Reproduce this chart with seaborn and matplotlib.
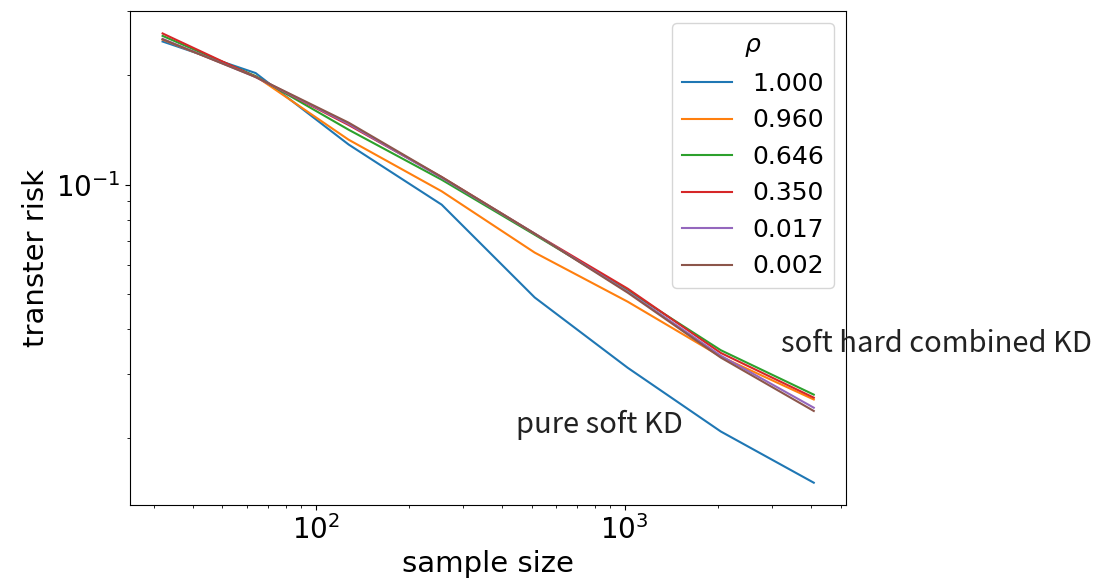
import numpy as np
import pandas as pd
import matplotlib
matplotlib.use("Agg")
import matplotlib.pyplot as plt
import seaborn as sns

# sample sizes (x) and transfer risk per rho value
sample_sizes = [32, 64, 128, 256, 512, 1024, 2048, 4096]
rho_labels = ["1.000", "0.960", "0.646", "0.350", "0.017", "0.002"]

risk_1000 = [0.248, 0.203, 0.129, 0.0881, 0.0489, 0.0313, 0.0209, 0.0151]
risk_0960 = [0.251, 0.199, 0.133, 0.0959, 0.0650, 0.0476, 0.0336, 0.0256]
risk_0646 = [0.257, 0.199, 0.1417, 0.1032, 0.0728, 0.0511, 0.0350, 0.0264]
risk_0350 = [0.261, 0.198, 0.146, 0.105, 0.0733, 0.0517, 0.0344, 0.0259]
risk_0017 = [0.252, 0.198, 0.147, 0.1045, 0.0733, 0.0507, 0.0338, 0.0243]
risk_0002 = [0.2515, 0.198, 0.1482, 0.105, 0.0733, 0.0504, 0.0334, 0.0238]

all_risks = [risk_1000, risk_0960, risk_0646, risk_0350, risk_0017, risk_0002]

rows = []
for label, risks in zip(rho_labels, all_risks):
    for n, r in zip(sample_sizes, risks):
        rows.append({"sample size": n, "transfer risk": r, "rho": label})
df = pd.DataFrame(rows)

plt.rcParams["font.family"] = "DejaVu Sans"
plt.rcParams["mathtext.fontset"] = "dejavusans"
note_font = ["Noto Sans CJK SC", "DejaVu Sans"]

fig = plt.figure(figsize=(11.02, 5.78), dpi=100)
ax = fig.add_axes([0.118, 0.126, 0.650, 0.855])

sns.lineplot(data=df, x="sample size", y="transfer risk", hue="rho",
             hue_order=rho_labels, palette="tab10", linewidth=1.5, ax=ax)

ax.set_xscale("log")
ax.set_yscale("log")
ax.tick_params(axis="both", which="major", labelsize=20)

ax.set_xlabel("sample size", fontsize=21)
ax.set_ylabel("transter risk", fontsize=21)

ax.text(447, 0.0207, "pure soft KD", fontsize=21, family=note_font,
        color="#222222")
ax.text(3200, 0.0347, "soft hard combined KD", fontsize=21, family=note_font,
        color="#222222", clip_on=False)

leg = ax.legend(title=r"$\rho$", fontsize=18, title_fontsize=18, loc="upper right")

fig.savefig("out.png", dpi=100)
